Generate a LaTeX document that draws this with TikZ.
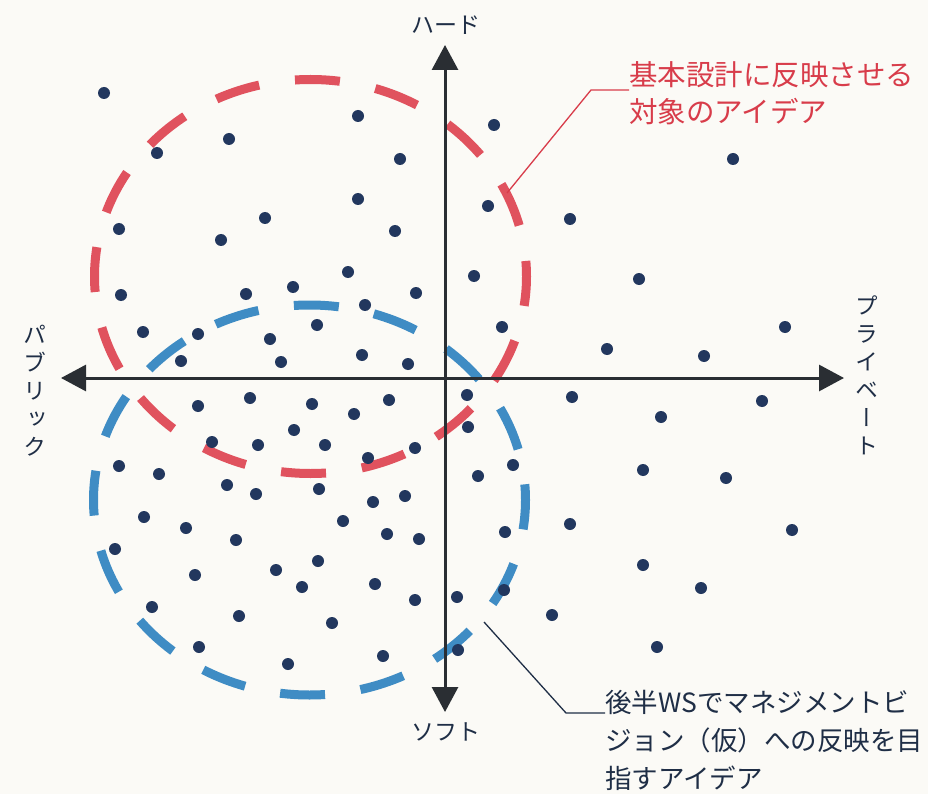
\documentclass[tikz,border=0pt]{standalone}
\usepackage{fontspec}
\setmainfont{Noto Sans CJK JP}
\newfontfamily\jpv[RawFeature=+vert]{Noto Sans CJK JP}
\usetikzlibrary{arrows.meta}
\definecolor{dotc}{HTML}{22375E}
\definecolor{redc}{HTML}{E0525E}
\definecolor{bluec}{HTML}{3F8CC4}
\definecolor{axisc}{HTML}{2A2E33}
\definecolor{labc}{HTML}{1F2E46}
\definecolor{redtxt}{HTML}{D83C4A}
\definecolor{paper}{HTML}{FBFAF6}
\tikzset{
  ring/.style={line width=9pt, dash pattern=on 45pt off 36pt, dash phase=15.5pt},
  axisline/.style={axisc, line width=3pt, {Triangle[length=25pt,width=26pt]}-{Triangle[length=25pt,width=26pt]}},
  dotm/.style={fill=dotc},
  axlab/.style={text=labc, inner sep=0pt, font=\fontsize{23}{28}\selectfont},
  vlab/.style={text=labc, inner sep=0pt, align=center, font=\jpv\fontsize{23}{28}\selectfont},
  rednote/.style={text=redtxt, inner sep=0pt, align=left, anchor=west, font=\fontsize{28.5}{37}\selectfont},
  bluenote/.style={text=labc, inner sep=0pt, align=left, anchor=west, font=\fontsize{26.5}{38}\selectfont},
  redlead/.style={redtxt, line width=1.3pt},
  bluelead/.style={labc, line width=1.3pt}
}
\begin{document}
\begin{tikzpicture}[x=1pt,y=-1pt]
\fill[paper] (0,0) rectangle (928,794);
\useasboundingbox (0,0) rectangle (928,794);

% dashed rings
\draw[ring, redc, dash pattern=on 45pt off 36.14pt] (310.5,276.5) ellipse [x radius=216, y radius=197];
\draw[ring, bluec, dash pattern=on 45pt off 35.75pt] (309.5,500) ellipse [x radius=216, y radius=195];

% axes
\coordinate (axL) at (61,378);
\coordinate (axR) at (844,378);
\coordinate (axT) at (445,45);
\coordinate (axB) at (445,712);
\draw[axisline] (axL) -- (axR);
\draw[axisline] (axB) -- (axT);

% dots
\foreach \px/\py in {
104/93,358/116,229/139,157/153,400/159,358/199,265/218,119/229,221/240,395/231,
348/272,293/287,246/294,121/295,416/293,365/305,317/325,143/332,198/334,270/339,
362/355,181/361,281/362,408/364,
494/125,733/159,488/206,570/219,474/276,639/279,502/327,785/327,607/349,704/356,
250/398,198/406,312/404,389/400,354/414,294/430,212/442,258/445,325/445,415/448,
368/458,119/466,159/474,227/485,256/494,319/489,373/502,405/496,144/517,186/528,
343/521,387/534,419/539,236/540,115/549,318/561,195/575,276/570,302/587,375/584,
415/600,152/607,239/616,332/623,199/647,383/656,288/664,
572/397,762/401,661/417,467/395,468/427,513/465,478/476,643/470,726/478,570/524,
505/532,792/530,643/565,701/588,504/590,552/615,657/647,457/597,458/650}
  \fill[dotm] (\px,\py) circle [radius=6];

% axis labels
\node[axlab] (hard) at (446,25) {ハード};
\node[axlab] (soft) at (446,732) {ソフト};
\node[vlab] (public) at (35,391) {パ\\ブ\\リ\\ッ\\ク};
\node[vlab] (private) at (867,375) {プ\\ラ\\イ\\ベ\\ー\\ト};

% callouts
\node[rednote] (rnote) at (629,93.5) {基本設計に反映させる\\対象のアイデア};
\coordinate (rtip) at (507,193);
\coordinate (rknee) at (591,90);
\draw[redlead] (rtip) -- (rknee) -- (rknee -| rnote.west);

\node[bluenote] (bnote) at (605,740) {後半WSでマネジメントビ\\ジョン（仮）への反映を目\\指すアイデア};
\coordinate (btip) at (484,622);
\coordinate (bknee) at (566,713);
\draw[bluelead] (btip) -- (bknee) -- (bknee -| bnote.west);
\end{tikzpicture}
\end{document}
